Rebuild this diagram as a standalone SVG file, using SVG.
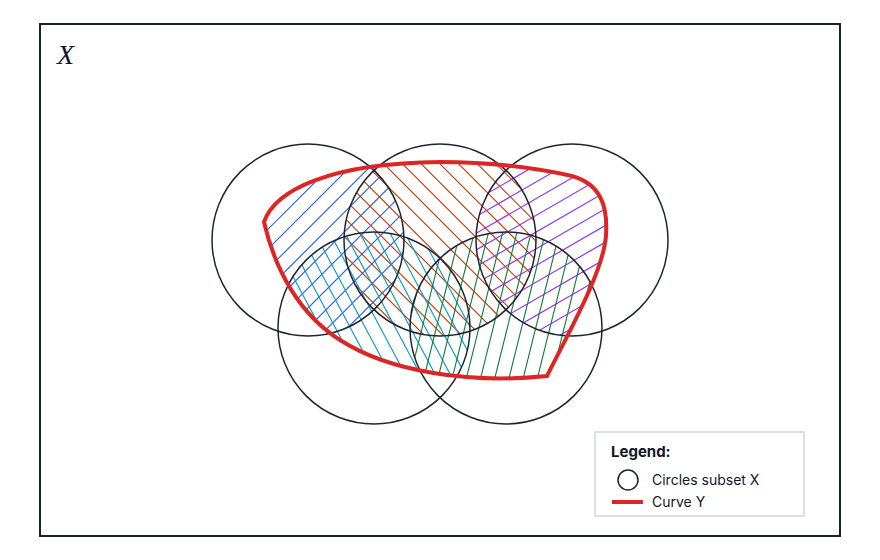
<svg xmlns="http://www.w3.org/2000/svg" width="880" height="560" viewBox="0 0 880 560">
<style>
.circ{fill:none;stroke:#1e2433;stroke-width:1.5}
.h{fill:none;stroke-width:1.15}
.hb{stroke:#2563eb}
.ho{stroke:#c2410c}
.hp{stroke:#9333ea}
.ht{stroke:#0a9cc2}
.hg{stroke:#15803d}
.lbl{font-family:Inter,"Liberation Sans",sans-serif;fill:#111827}
</style>
<defs>
<path id="curveY" d="M264,222 C275,190 330,163 440,162 C500,162 545,170 572,176 C600,184 608,205 606,235 C604,270 570,330 547,376 C470,384 390,372 340,340 C300,315 275,270 264,222 Z"/>
<clipPath id="clipY"><use href="#curveY"/></clipPath>
<clipPath id="c1"><circle cx="308" cy="240" r="96"/></clipPath>
<clipPath id="c2"><circle cx="440" cy="240" r="96"/></clipPath>
<clipPath id="c3"><circle cx="572" cy="240" r="96"/></clipPath>
<clipPath id="c4"><circle cx="374" cy="328" r="96"/></clipPath>
<clipPath id="c5"><circle cx="506" cy="328" r="96"/></clipPath>
</defs>
<rect x="0" y="0" width="880" height="560" fill="#ffffff"/>
<g id="frame">
<rect x="40" y="24" width="800" height="512" fill="#ffffff" stroke="#1a2232" stroke-width="2"/>
<text x="57" y="64" font-family="'Liberation Serif',serif" font-style="italic" font-size="28" fill="#111827">X</text>
</g>
<g id="hatching" clip-path="url(#clipY)">
<g clip-path="url(#c1)"><path class="h hb" d="M337.4,140L137.4,340M357.2,140L157.2,340M377,140L177,340M396.8,140L196.8,340M416.6,140L216.6,340M436.4,140L236.4,340M456.2,140L256.2,340M476,140L276,340M495.8,140L295.8,340M515.6,140L315.6,340M535.4,140L335.4,340M555.2,140L355.2,340"/></g>
<g clip-path="url(#c2)"><path class="h ho" d="M210.4,140L410.4,340M229.1,140L429.1,340M247.8,140L447.8,340M266.5,140L466.5,340M285.2,140L485.2,340M303.9,140L503.9,340M322.6,140L522.6,340M341.3,140L541.3,340M360,140L560,340M378.7,140L578.7,340M397.4,140L597.4,340M416.1,140L616.1,340M434.8,140L634.8,340M453.5,140L653.5,340M472.2,140L672.2,340"/></g>
<g clip-path="url(#c3)"><path class="h hp" d="M470,186.7L680,65.5M470,203.4L680,82.2M470,220.1L680,98.9M470,236.8L680,115.6M470,253.5L680,132.3M470,270.2L680,149M470,286.9L680,165.7M470,303.6L680,182.4M470,320.3L680,199.1M470,337L680,215.8M470,353.7L680,232.5M470,370.4L680,249.2M470,387.1L680,265.9M470,403.8L680,282.6"/></g>
<g clip-path="url(#c4)"><path class="h ht" d="M203,220L314.8,430M218,220L329.8,430M233,220L344.8,430M248,220L359.8,430M263,220L374.8,430M278,220L389.8,430M293,220L404.8,430M308,220L419.8,430M323,220L434.8,430M338,220L449.8,430M353,220L464.8,430M368,220L479.8,430M383,220L494.8,430M398,220L509.8,430M413,220L524.8,430M428,220L539.8,430"/></g>
<g clip-path="url(#c5)"><path class="h hg" d="M434.8,220L382.5,430M449,220L396.7,430M463.2,220L410.9,430M477.4,220L425.1,430M491.6,220L439.3,430M505.8,220L453.5,430M520,220L467.7,430M534.2,220L481.9,430M548.4,220L496.1,430M562.6,220L510.3,430M576.8,220L524.5,430M591,220L538.7,430M605.2,220L552.9,430M619.4,220L567.1,430M633.6,220L581.3,430"/></g>
</g>
<g id="circle1"><circle class="circ" cx="308" cy="240" r="96"/></g>
<g id="circle2"><circle class="circ" cx="440" cy="240" r="96"/></g>
<g id="circle3"><circle class="circ" cx="572" cy="240" r="96"/></g>
<g id="circle4"><circle class="circ" cx="374" cy="328" r="96"/></g>
<g id="circle5"><circle class="circ" cx="506" cy="328" r="96"/></g>
<g id="curve">
<use href="#curveY" fill="none" stroke="#dc2626" stroke-width="4" stroke-linejoin="miter"/>
</g>
<g id="legend">
<rect x="595" y="432" width="209" height="84" fill="#ffffff" stroke="#d1d5db" stroke-width="1.5"/>
<text class="lbl" x="611" y="457" font-size="15" font-weight="bold">Legend:</text>
<circle cx="628" cy="480" r="10" fill="none" stroke="#1e2433" stroke-width="1.5"/>
<text class="lbl" x="652" y="485" font-size="14">Circles subset X</text>
<line x1="612" y1="502" x2="643" y2="502" stroke="#dc2626" stroke-width="4"/>
<text class="lbl" x="652" y="507" font-size="14">Curve Y</text>
</g>
</svg>
